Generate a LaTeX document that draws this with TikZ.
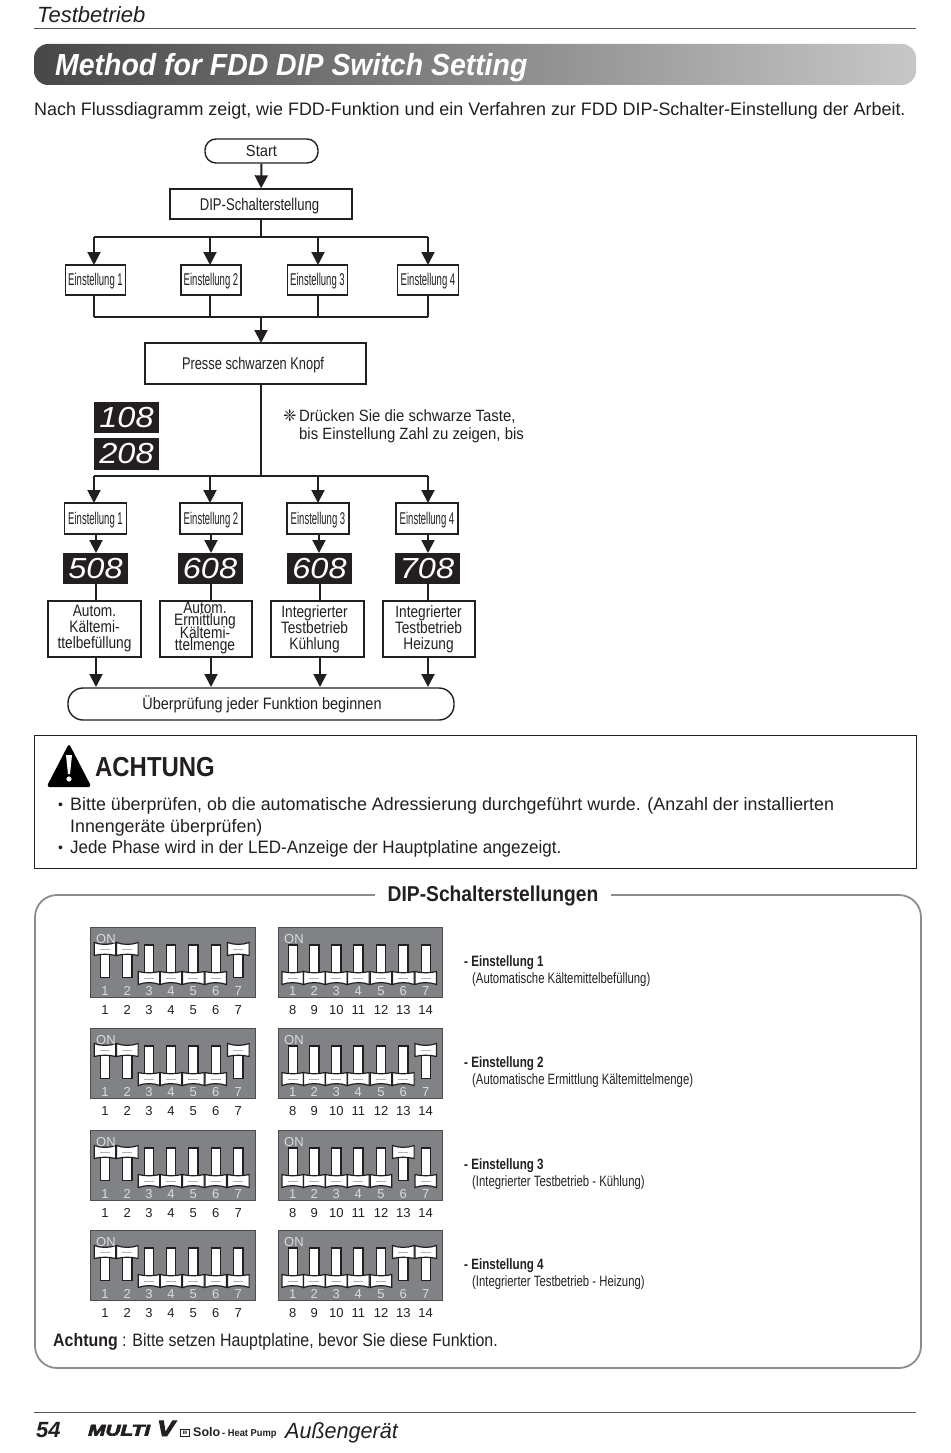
\documentclass[tikz,border=0pt]{standalone}
\usepackage{fontspec}
\usetikzlibrary{arrows.meta,calc,shapes.geometric}
\setmainfont{Liberation Sans}
\newfontfamily\dejavu{DejaVu Sans}
\newfontfamily\heavyfont[FakeBold=4,Ligatures=NoCommon]{Liberation Sans Bold Italic}
\newcommand{\fs}[1]{\fontsize{#1}{#1}\selectfont}
\newcommand{\sx}[2]{\scalebox{#1}[1]{#2}}
\newcommand{\dn}[2]{\raisebox{-#1pt}[\height][\depth]{#2}}
\definecolor{dipgray}{HTML}{808285}
\definecolor{ink}{HTML}{231F20}
\definecolor{dipnum}{HTML}{DADBDD}
\newcommand{\dipup}[2]{%
  \draw[dipsw] (#1-4.6,#2+22) rectangle (#1+4.6,#2+50.7);
  \draw[dipsw] (#1-10.8,#2+15.5) .. controls (#1-4,#2+18) and (#1+4,#2+18) .. (#1+10.8,#2+15.5) -- (#1+10.8,#2+28.5) .. controls (#1+4,#2+26.8) and (#1-4,#2+26.8) .. (#1-10.8,#2+28.5) -- cycle;
  \draw[black!30,line width=.5pt] (#1-5,#2+22.5) -- (#1+5,#2+22.5);
}
\newcommand{\dipdown}[2]{%
  \draw[dipsw] (#1-4.6,#2+18) rectangle (#1+4.6,#2+50);
  \draw[dipsw] (#1-10.8,#2+44.5) .. controls (#1-4,#2+46.2) and (#1+4,#2+46.2) .. (#1+10.8,#2+44.5) -- (#1+10.8,#2+57.5) .. controls (#1+4,#2+55) and (#1-4,#2+55) .. (#1-10.8,#2+57.5) -- cycle;
  \draw[black!30,line width=.5pt] (#1-5,#2+51) -- (#1+5,#2+51);
}
\tikzset{x=1pt,y=-1pt,
  flowline/.style={ink,line width=2pt},
  flowarrow/.style={ink,line width=2pt,-{Triangle[length=13pt,width=13pt]}},
  flowbox/.style={draw=ink,line width=1.4pt,fill=white,inner sep=0pt,text=ink,align=center},
  endbox/.style={flowbox,rounded corners=11pt},
  setbox/.style={flowbox,font=\fs{17}},
  funcbox/.style={flowbox},
  functext/.style={inner sep=0pt,text=ink,align=center,font={\fontsize{16.5}{16}\selectfont\lineskiplimit=-20pt}},
  functight/.style={inner sep=0pt,text=ink,align=center,font={\fontsize{16.5}{12.6}\selectfont\lineskiplimit=-20pt}},
  display/.style={fill=ink,inner sep=0pt,text=white,font=\fs{29}\itshape},
  dipsw/.style={draw=ink,line width=1.2pt,fill=white},
  dipframe/.style={fill=dipgray,draw=ink!80,line width=1.2pt,inner sep=0pt},
  numin/.style={text=dipnum,font=\fs{13},inner sep=0pt},
  numout/.style={text=ink,font=\fs{13},inner sep=0pt},
  txt/.style={anchor=base west,inner sep=0pt,text=ink},
}
\begin{document}
\begin{tikzpicture}
\useasboundingbox (0,0) rectangle (950,1453);
% header
\node[txt,font=\fs{22}\itshape] (head) at (37,23) {Testbetrieb};
\coordinate (hl) at (34,29); \coordinate (hr) at (916,29);
\draw[black!65,line width=1pt] (hl) -- (hr);
\shade[left color=black!72,right color=black!22,rounded corners=14pt] (34,44) rectangle (916,85);
\node[txt,text=white,font=\fs{30.5}\bfseries\itshape] (title) at (55,76) {\sx{.932}{Method for FDD DIP Switch Setting}};
\node[txt,font=\fs{18.1}] (intro) at (34,116) {\sx{.99}{Nach Flussdiagramm zeigt, wie FDD-Funktion und ein Verfahren zur FDD DIP-Schalter-Einstellung der Arbeit.}};

% flow top
\node[endbox,minimum width=113pt,minimum height=24pt,font=\fs{16}] (start) at (261.5,151) {\sx{.92}{Start}};
\node[flowbox,minimum width=182pt,minimum height=30pt,font=\fs{17}] (dip) at (261,204) {\hspace*{-3pt}\dn{2.5}{\sx{.77}{DIP-Schalterstellung}}};
\draw[flowarrow] (start) -- (dip);
\coordinate (j1) at (261,237);
\draw[flowline] (dip) -- (j1);
\foreach \n/\x/\w/\t in {a/95.5/60/1,b/211/60/2,c/317.5/60/3,d/428/61/4}{
  \node[setbox,minimum width=\w pt,minimum height=30pt] (u\n) at (\x,280) {\dn{1.5}{\sx{.56}{Einstellung \t}}};
}
\coordinate (t1) at (94,237); \coordinate (t2) at (210,237); \coordinate (t3) at (318,237); \coordinate (t4) at (428,237);
\draw[flowline] (t1) -- (t4);
\draw[flowarrow] (t1) -- (94,265);
\draw[flowarrow] (t2) -- (210,265);
\draw[flowarrow] (t3) -- (318,265);
\draw[flowarrow] (t4) -- (428,265);
\coordinate (m1) at (94,317); \coordinate (m2) at (210,317); \coordinate (m3) at (318,317); \coordinate (m4) at (428,317); \coordinate (m0) at (261,317);
\draw[flowline] (94,295) -- (m1);
\draw[flowline] (210,295) -- (m2);
\draw[flowline] (318,295) -- (m3);
\draw[flowline] (428,295) -- (m4);
\draw[flowline] (m1) -- (m4);
\node[flowbox,minimum width=221pt,minimum height=41pt,font=\fs{17}] (press) at (255.5,363.5) {\hspace*{-5pt}\dn{2}{\sx{.755}{Presse schwarzen Knopf}}};
\draw[flowarrow] (m0) -- (261,343);
\coordinate (j2) at (261,476);
\draw[flowline] (261,384) -- (j2);

% displays
\node[display,minimum width=65pt,minimum height=31pt] (d108) at (126.5,417.5) {\sx{1.12}{108}};
\node[display,minimum width=65pt,minimum height=32pt] (d208) at (126.5,454) {\sx{1.12}{208}};

% note
\node[txt,font=\fs{16}\dejavu] (star) at (283,421) {❈};
\node[txt,font=\fs{16.3}] (note1) at (299,421) {\sx{.915}{Drücken Sie die schwarze Taste,}};
\node[txt,font=\fs{16.3}] (note2) at (299,439) {\sx{.915}{bis Einstellung Zahl zu zeigen, bis}};

% lower branch
\coordinate (b1) at (94,476); \coordinate (b2) at (210,476); \coordinate (b3) at (318,476); \coordinate (b4) at (428,476);
\draw[flowline] (b1) -- (b4);
\foreach \n/\x/\w/\t in {a/95.5/62/1,b/211/62/2,c/318/62/3,d/427/62/4}{
  \node[setbox,minimum width=\w pt,minimum height=31pt] (s\n) at (\x,518.5) {\dn{2}{\sx{.56}{Einstellung \t}}};
}
\draw[flowarrow] (b1) -- (94,503);
\draw[flowarrow] (b2) -- (210,503);
\draw[flowarrow] (b3) -- (318,503);
\draw[flowarrow] (b4) -- (428,503);
\node[display,minimum width=65pt,minimum height=31pt] (da) at (95.5,568.5) {\sx{1.12}{508}};
\node[display,minimum width=65pt,minimum height=31pt] (db) at (210,568.5) {\sx{1.12}{608}};
\node[display,minimum width=65pt,minimum height=31pt] (dc) at (319.5,568.5) {\sx{1.12}{608}};
\node[display,minimum width=65pt,minimum height=31pt] (dd) at (427,568.5) {\sx{1.12}{708}};
\draw[flowarrow] (96,534) -- (96,553);
\draw[flowarrow] (211,534) -- (211,553);
\draw[flowarrow] (319,534) -- (319,553);
\draw[flowarrow] (428,534) -- (428,553);
\draw[flowline] (96,584) -- (96,601);
\draw[flowline] (211,584) -- (211,601);
\draw[flowline] (320,584) -- (320,601);
\draw[flowline] (428,584) -- (428,601);
\node[funcbox,minimum width=93pt,minimum height=56pt] (fa) at (94.5,629) {};
\node[functext] (fat) at (94.5,629) {\sx{.83}{Autom.}\\\sx{.83}{Kältemi-}\\\sx{.83}{ttelbefüllung}};
\node[funcbox,minimum width=92pt,minimum height=56pt] (fb) at (206,629) {};
\node[functight] (fbt) at (205,628) {\sx{.83}{Autom.}\\\sx{.83}{Ermittlung}\\\sx{.83}{Kältemi-}\\\sx{.83}{ttelmenge}};
\node[funcbox,minimum width=93pt,minimum height=56pt] (fc) at (317.5,629) {};
\node[functext] (fct) at (314.5,629) {\sx{.83}{Integrierter}\\\sx{.83}{Testbetrieb}\\\sx{.83}{Kühlung}};
\node[funcbox,minimum width=92pt,minimum height=56pt] (fd) at (429,629) {};
\node[functext] (fdt) at (428.5,629) {\sx{.83}{Integrierter}\\\sx{.83}{Testbetrieb}\\\sx{.83}{Heizung}};
\draw[flowarrow] (96,657) -- (96,687);
\draw[flowarrow] (211,657) -- (211,687);
\draw[flowarrow] (320,657) -- (320,687);
\draw[flowarrow] (428,657) -- (428,687);
\node[endbox,rounded corners=15pt,minimum width=386pt,minimum height=32pt,font=\fs{16.5}] (endn) at (261,704) {\hspace*{2pt}\sx{.875}{Überprüfung jeder Funktion beginnen}};

% caution
\draw[ink,line width=1pt] (34,735) rectangle (916,868.5);
\fill[black,rounded corners=3pt] (69,743.5) -- (91.5,787) -- (46.5,787) -- cycle;
\fill[white] (66,755) -- (72,755) -- (70,774) -- (68,774) -- cycle;
\fill[white] (69,779) circle (2.6);
\node[txt,font=\fs{27.5}\bfseries] (ach) at (95,776.5) {\sx{.87}{ACHTUNG}};
\node[txt,font=\fs{14}] (c1b) at (58,809) {•};
\node[txt,font=\fs{18}] (c1) at (70,810.5) {\sx{.992}{Bitte überprüfen, ob die automatische Adressierung durchgeführt wurde. (Anzahl der installierten}};
\node[txt,font=\fs{18}] (c2) at (70,832) {\sx{.99}{Innengeräte überprüfen)}};
\node[txt,font=\fs{14}] (c3b) at (58,852) {•};
\node[txt,font=\fs{18}] (c3) at (70,853.5) {\sx{.946}{Jede Phase wird in der LED-Anzeige der Hauptplatine angezeigt.}};

% DIP panel
\draw[black!45,line width=1.8pt,rounded corners=22pt] (35,895) rectangle (921,1368);
\node[fill=white,inner sep=0pt,minimum width=236pt,minimum height=24pt] (ptitlebg) at (493,895) {};
\node[inner sep=0pt,text=ink,font=\fs{21.5}\bfseries] (ptitle) at (493,896) {\sx{.895}{DIP-Schalterstellungen}};

\foreach \y/\lu/\rup/\tta/\ttb in {
  927/{1,2,7}/{}/{- Einstellung 1}/{(Automatische Kältemittelbefüllung)},
  1028/{1,2,7}/{7}/{- Einstellung 2}/{(Automatische Ermittlung Kältemittelmenge)},
  1130/{1,2}/{6}/{- Einstellung 3}/{(Integrierter Testbetrieb - Kühlung)},
  1230/{1,2}/{6,7}/{- Einstellung 4}/{(Integrierter Testbetrieb - Heizung)}}{
  \node[dipframe,anchor=north west,minimum width=164.5pt,minimum height=70pt] (L\y) at (90,\y) {};
  \node[dipframe,anchor=north west,minimum width=164pt,minimum height=70pt] (R\y) at (277.5,\y) {};
  \foreach \i/\x in {1/105,2/127.3,3/149,4/171,5/193.3,6/215.7,7/238.3}{
    \gdef\isup{0}
    \foreach \u in \lu {\ifnum\u=\i\global\def\isup{1}\fi}
    \ifnum\isup=1 \dipup{\x}{\y}\else\dipdown{\x}{\y}\fi
    \gdef\isup{0}
    \node[numin] at (\x,\y+64) {\i};
    \node[numout] at (\x,\y+83) {\i};
  }
  \foreach \i/\x/\l in {1/292.7/8,2/314.3/9,3/336.3/10,4/358.3/11,5/381/12,6/403.3/13,7/425.7/14}{
    \gdef\isup{0}
    \foreach \u in \rup {\ifnum\u=\i\global\def\isup{1}\fi}
    \ifnum\isup=1 \dipup{\x}{\y}\else\dipdown{\x}{\y}\fi
    \gdef\isup{0}
    \node[numin] at (\x,\y+64) {\i};
    \node[numout] at (\x,\y+83) {\l};
  }
  \node[anchor=base west,inner sep=0pt,text=dipnum,font=\fs{13}] (LO\y) at (96,\y+16) {ON};
  \node[anchor=base west,inner sep=0pt,text=dipnum,font=\fs{13}] (RO\y) at (284,\y+16) {ON};
  \node[txt,font=\fs{15}\bfseries] at (464,\y+39) {\sx{.775}{\tta}};
  \node[txt,font=\fs{15}] at (472,\y+56) {\sx{.755}{\ttb}};
}
\node[txt,font=\fs{18}] (warn) at (53,1346) {\sx{.884}{\textbf{Achtung} : Bitte setzen Hauptplatine, bevor Sie diese Funktion.}};

% footer
\coordinate (fl) at (34,1412); \coordinate (fr) at (916,1412);
\draw[black!65,line width=1pt] (fl) -- (fr);
\node[txt,font=\fs{22}\bfseries\itshape] (page) at (36,1437) {54};
\node[txt,font=\fs{15.5}\heavyfont] (logo) at (88,1435.5) {\sx{1.34}{MULTI}};
\node[txt,font=\fs{22}\heavyfont] (logov) at (157,1436) {\sx{1.2}{V}};
\node[draw=ink,line width=.7pt,fill=white,inner sep=0pt,minimum width=9pt,minimum height=7pt,font=\fs{5}\bfseries] (logob) at (185,1433) {III};
\node[txt,font=\fs{12.5}\bfseries] (solo) at (193,1436) {Solo};
\node[txt,font=\fs{10}\bfseries] (hp) at (222,1436) {\sx{.93}{- Heat Pump}};
\node[txt,font=\fs{22}\itshape] (aussen) at (285,1438) {\sx{.98}{Außengerät}};
\end{tikzpicture}
\end{document}
